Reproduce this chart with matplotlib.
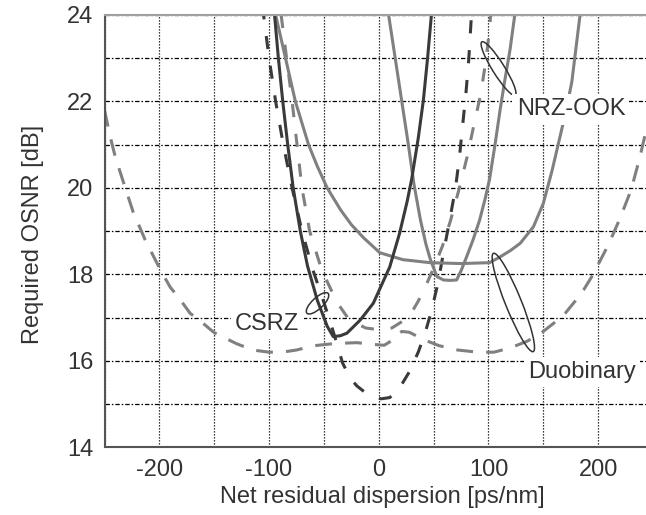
import matplotlib
matplotlib.use("Agg")
import matplotlib.pyplot as plt
from matplotlib.patches import Ellipse
from matplotlib.transforms import ScaledTranslation

plt.rcParams['font.family'] = ['Liberation Sans', 'DejaVu Sans']
plt.rcParams['axes.unicode_minus'] = False

# --- data (x: ps/nm, y: dB) ---
csrz_solid_x = [-95, -91.5, -87.5, -83, -78, -71.5, -65, -56, -47, -41.5, -35, -29, -17, -5, 10, 19, 26, 30, 36, 40.7, 44.5, 48]
csrz_solid_y = [24, 23, 22, 21, 20, 19, 18.2, 17.4, 16.8, 16.56, 16.58, 16.64, 16.94, 17.33, 18.17, 18.95, 19.7, 20.2, 21.15, 22.03, 23.0, 24]

csrz_dash_x = [-106, -100, -94, -87, -79, -70, -60, -50, -43, -37, -33, -26, -20, -10, 2, 10, 18, 28, 36, 42, 48, 54, 59, 65, 70, 73.5, 76.5, 79.5, 82, 85]
csrz_dash_y = [24.2, 23, 22, 21, 20, 19, 18.1, 17.35, 16.8, 16.3, 15.95, 15.6, 15.42, 15.22, 15.12, 15.15, 15.33, 15.75, 16.2, 16.62, 17.15, 17.8, 18.5, 19.3, 20.0, 20.7, 21.45, 22.2, 22.95, 24.2]

nrz_solid_x = [9, 15, 21, 27, 32, 38, 43, 47, 53, 59, 65, 71, 75, 80, 86, 92, 97, 101, 106, 110.6, 115, 119.7, 124]
nrz_solid_y = [24, 23, 22, 21, 20.1, 19.26, 18.7, 18.35, 17.95, 17.87, 17.86, 17.87, 18.08, 18.4, 18.8, 19.26, 19.75, 20.2, 21.0, 21.8, 22.5, 23.2, 24]

nrz_dash_x = [-89, -84, -79, -74.5, -70, -63, -52, -38, -27, -12, 0, 12, 22, 30, 36, 44, 51, 58, 65.5, 73, 80.6, 86.7, 92.8, 97.3, 100.8, 102]
nrz_dash_y = [24, 23, 22, 21, 20, 19, 18.1, 17.35, 16.95, 16.76, 16.72, 16.76, 16.92, 17.12, 17.38, 17.8, 18.2, 18.65, 19.25, 19.95, 20.72, 21.45, 22.15, 22.88, 23.61, 24]

db_solid_x = [-94, -85, -76, -64, -56, -47, -35, -25, -14, 1, 22, 47, 75, 101, 111, 120, 129, 141, 150, 158, 164, 170, 176, 183.5]
db_solid_y = [24, 23.0, 22.0, 21.0, 20.5, 20.0, 19.5, 19.15, 18.85, 18.5, 18.34, 18.27, 18.25, 18.27, 18.41, 18.55, 18.72, 19.1, 19.64, 20.4, 21.05, 21.7, 22.45, 24]

db_dash_x = [-250, -245, -240, -233, -224, -213, -205, -199, -190, -182, -172, -164, -150, -142, -130, -115, -100, -88, -75, -59, -40, -20, -5, 5, 14, 21, 28, 40, 55, 72, 90, 105, 120, 135, 147, 160, 170, 179, 187, 195, 207, 214, 220, 230, 238, 243, 250]
db_dash_y = [21.8, 21.2, 20.7, 20.15, 19.45, 18.8, 18.4, 18.1, 17.7, 17.45, 17.1, 16.95, 16.65, 16.55, 16.4, 16.25, 16.2, 16.2, 16.25, 16.35, 16.4, 16.42, 16.38, 16.36, 16.5, 16.68, 16.66, 16.5, 16.35, 16.25, 16.2, 16.2, 16.3, 16.45, 16.62, 16.88, 17.1, 17.38, 17.65, 17.98, 18.57, 18.95, 19.3, 19.95, 20.7, 21.25, 22.1]

x_ticks = [-200, -100, 0, 100, 200]
y_ticks = [14, 16, 18, 20, 22, 24]

DARK = '#3a3a3a'
MID = '#808080'

fig = plt.figure(figsize=(6.46, 5.15), dpi=100)
# axes run past the right edge of the figure, as in the cropped original
ax = fig.add_axes([0.1618, 0.1315, 0.849, 0.8394])
ax.set_xlim(-250, 250)
ax.set_ylim(14, 24)

ax.set_xticks(x_ticks)
ax.set_xticks([-250, -150, -50, 50, 150, 250], minor=True)
ax.set_yticks(y_ticks)
ax.set_yticks([15, 17, 19, 21, 23], minor=True)
ax.tick_params(which='both', length=0, labelsize=17, labelcolor='#333333')
ax.tick_params(axis='x', pad=8.5)
ax.tick_params(axis='y', pad=8)

ax.grid(which='both', axis='x', color='black', lw=0.9, ls=(0, (1, 1.4)))
ax.grid(which='both', axis='y', color='black', lw=0.9, ls=(0, (3.5, 1.6, 1.2, 1.6)))
ax.set_axisbelow(True)

for side in ['left', 'bottom']:
    ax.spines[side].set_color('#555555')
    ax.spines[side].set_linewidth(1.5)
ax.spines['top'].set_color('#a0a0a0')
ax.spines['top'].set_linewidth(1.5)
ax.spines['right'].set_visible(False)

lw = 2.2
ax.plot(db_dash_x, db_dash_y, color=MID, lw=lw, dashes=(5.5, 4.3))
ax.plot(nrz_dash_x, nrz_dash_y, color=MID, lw=lw, dashes=(4.3, 5.5))
ax.plot(csrz_dash_x, csrz_dash_y, color=DARK, lw=lw, dashes=(4.3, 5.5))
ax.plot(db_solid_x, db_solid_y, color=MID, lw=lw)
ax.plot(nrz_solid_x, nrz_solid_y, color=MID, lw=lw)
ax.plot(csrz_solid_x, csrz_solid_y, color=DARK, lw=lw)

# ellipses drawn in inches around a data-space centre
def ring(xc, yc, w, h, ang):
    tr = fig.dpi_scale_trans + ScaledTranslation(xc, yc, ax.transData)
    ax.add_patch(Ellipse((0, 0), w, h, angle=ang, transform=tr,
                         fill=False, ec='#333333', lw=1.1, zorder=5))

ring(109.2, 22.76, 0.63, 0.12, -58)
ring(-55.8, 17.33, 0.29, 0.11, 43)
ring(122.7, 17.35, 1.06, 0.16, -68)

box = dict(fc='white', ec='none', pad=3)
ax.text(125.8, 21.68, 'NRZ-OOK', fontsize=17, color='#333333', va='baseline', bbox=box, zorder=6)
ax.text(-131, 16.71, 'CSRZ', fontsize=17, color='#333333', va='baseline', bbox=box, zorder=6)
ax.text(136, 15.6, 'Duobinary', fontsize=17, color='#333333', va='baseline', bbox=box, zorder=6)

fig.text(382 / 646, 0.035, 'Net residual dispersion [ps/nm]', fontsize=17,
         color='#333333', ha='center', va='center')
fig.text(33 / 646, 0.545, 'Required OSNR [dB]', fontsize=17, color='#333333',
         ha='center', va='center', rotation=90)

fig.savefig('out.png', dpi=100)
